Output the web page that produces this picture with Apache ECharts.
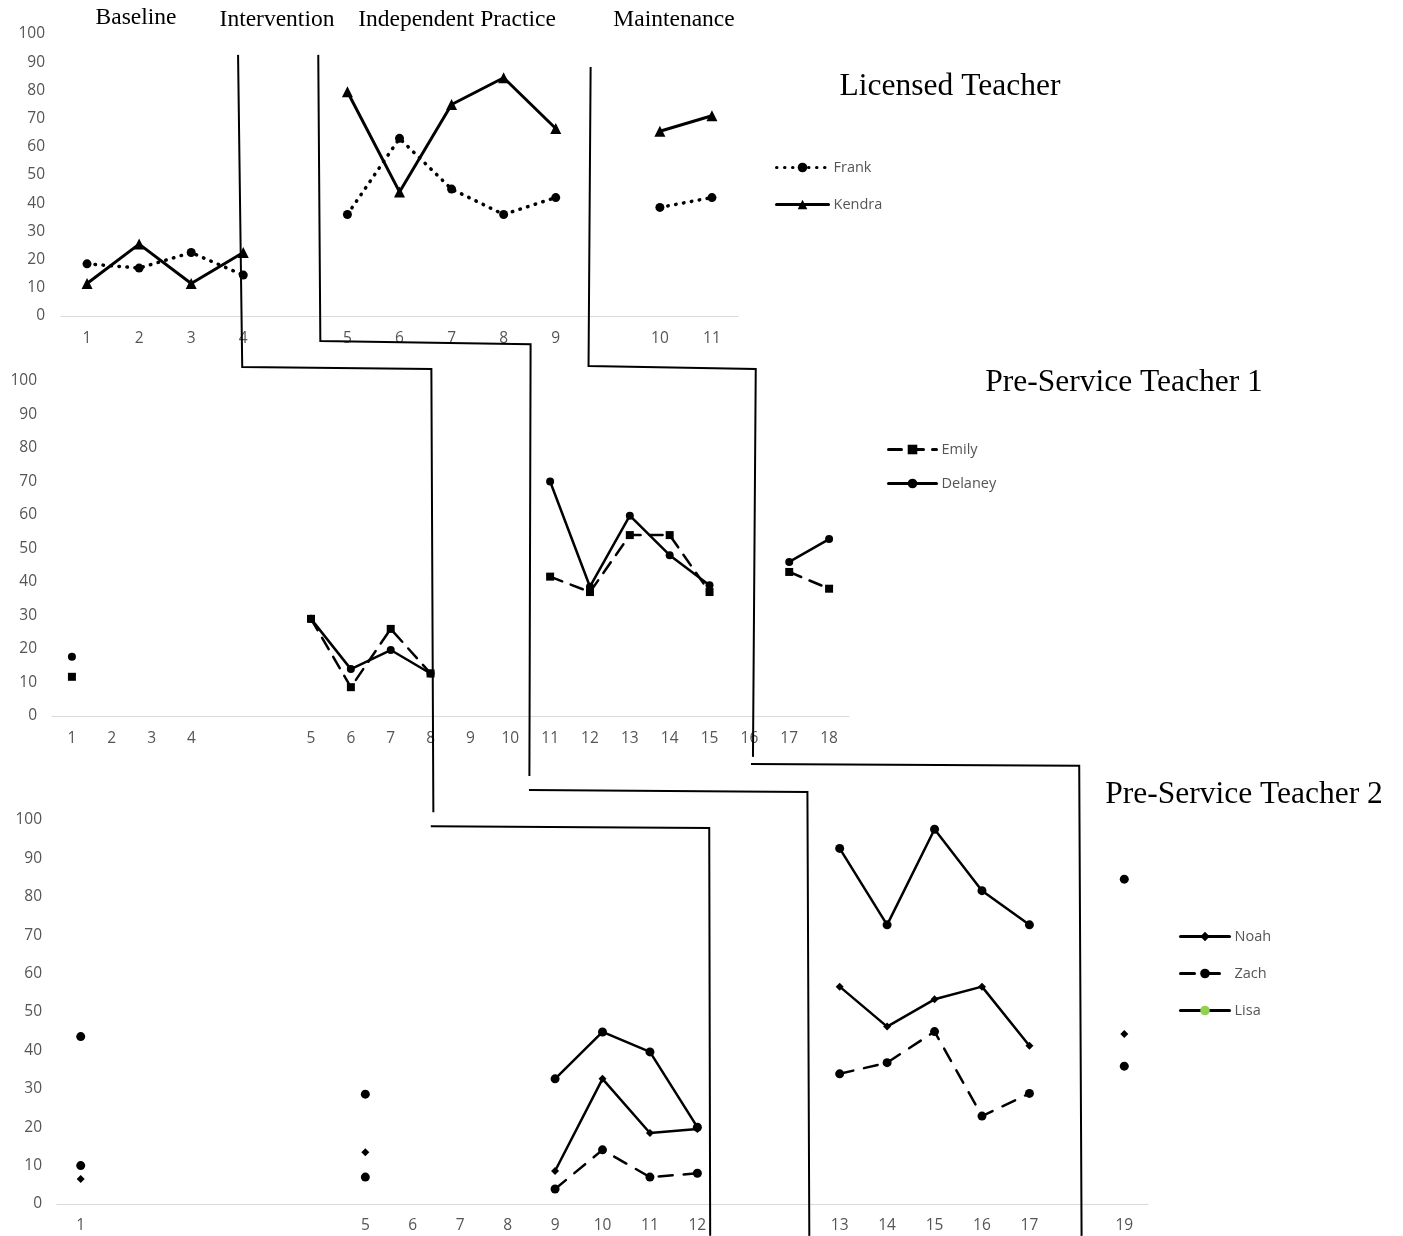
<!DOCTYPE html>
<html><head><meta charset="utf-8">
<script src="https://cdn.jsdelivr.net/npm/echarts@6/dist/echarts.min.js"></script>
<style>html,body{margin:0;padding:0;background:#fff}#c{width:1403px;height:1236px}</style>
</head><body><div id="c"></div>
<script>
// ---------- data ----------
const phaseNames = ['Baseline', 'Intervention', 'Independent Practice', 'Maintenance'];
const panelTitles = ['Licensed Teacher', 'Pre-Service Teacher 1', 'Pre-Service Teacher 2'];

// Panel 1: Licensed Teacher (sessions)
const labels1 = ['1','2','3','4','','5','6','7','8','9','','10','11'];
const frank  = [18.5, 17, 22.5, 14.5, null, 36, 63, 45, 36, 42, null, 38.5, 42];
const kendra = [11.5, 25.5, 11.5, 22.5, null, 79.5, 44, 75, 84.5, 66.5, null, 65.5, 71];

// Panel 2: Pre-Service Teacher 1
const labels2 = ['1','2','3','4','','','5','6','7','8','9','10','11','12','13','14','15','16','17','18'];
const emily   = [11.7, null, null, null, null, null, 29, 8.6, 26, 12.7, null, null, 41.6, 37, 54, 54, 37, null, 43, 38];
const delaney = [17.7, null, null, null, null, null, 29, 14, 19.7, 12.7, null, null, 70, 38.6, 59.8, 48, 39, null, 46, 52.8];

// Panel 3: Pre-Service Teacher 2
const labels3 = ['1','','','','','','5','6','7','8','9','10','11','12','','','13','14','15','16','17','','19'];
const noah = [6.5, null, null, null, null, null, 13.5, null, null, null, 8.6, 32.6, 18.5, 19.5, null, null, 56.6, 46.2, 53.3, 56.6, 41.2, null, 44.3];
const zach = [10, null, null, null, null, null, 7, null, null, null, 3.9, 14.1, 7, 8, null, null, 33.9, 36.8, 44.9, 22.9, 28.8, null, 35.9];
const lisa = [43.6, null, null, null, null, null, 28.6, null, null, null, 32.6, 44.8, 39.6, 20, null, null, 92.6, 72.7, 97.6, 81.6, 72.7, null, 84.6];

// Phase-change lines: segments of [gridIndex, categoryPosition, value]
const phaseLines = [
  [[0, 2.90, 92.6], [0, 2.98, -18.1], [1, 9.02, 103.6], [1, 9.07, -28.7]],
  [[2, 7.38, 98.4], [2, 13.25, 97.9], [2, 13.27, -8.3]],
  [[0, 4.44, 92.6], [0, 4.48, -8.9], [1, 11.51, 111.0], [1, 11.48, -17.9]],
  [[2, 9.45, 107.8], [2, 15.32, 107.3], [2, 15.36, -8.3]],
  [[0, 9.67, 88.3], [0, 9.63, -17.7], [1, 17.16, 103.6], [1, 17.09, -12.2]],
  [[2, 14.13, 114.6], [2, 21.05, 114.1], [2, 21.10, -8.3]]
];

// ---------- chart ----------
const FONT = 'Open Sans';
const SERIF = 'Liberation Serif';
const GREY = '#555555';
const chart = echarts.init(document.getElementById('c'), null, {renderer: 'canvas'});

function xAx(g, labels, margin) {
  return {
    type: 'category', gridIndex: g, boundaryGap: true,
    data: labels.map((_, i) => 'c' + i),
    axisLine: {show: true, lineStyle: {color: '#d9d9d9', width: 1}},
    axisTick: {show: false}, splitLine: {show: false},
    axisLabel: {interval: 0, margin: margin, color: GREY, fontFamily: FONT, fontSize: 15.5,
      formatter: (v, i) => labels[i]}
  };
}
function yAx(g, margin) {
  return {
    type: 'value', gridIndex: g, min: 0, max: 100, interval: 10,
    axisLine: {show: false}, axisTick: {show: false}, splitLine: {show: false},
    axisLabel: {margin: margin, color: GREY, fontFamily: FONT, fontSize: 15.5}
  };
}
function ser(name, g, data, symbol, size, width, type) {
  return {
    name: name, type: 'line', xAxisIndex: g, yAxisIndex: g, data: data,
    symbol: symbol, symbolSize: size, showSymbol: true, showAllSymbol: true,
    connectNulls: false, silent: true,
    lineStyle: {color: '#000', width: width, type: type, cap: 'round'},
    itemStyle: {color: '#000'},
    emphasis: {disabled: true}
  };
}
const legendText = {color: GREY, fontFamily: FONT, fontSize: 14.5};
const legendLine = {width: 3};

chart.setOption({
  animation: false,
  backgroundColor: '#fff',
  grid: [
    {left: 61, top: 34, width: 677, height: 282},
    {left: 52, top: 381, width: 797, height: 335},
    {left: 57, top: 820, width: 1091, height: 384}
  ],
  xAxis: [xAx(0, labels1, 15), xAx(1, labels2, 15), xAx(2, labels3, 14)],
  yAxis: [yAx(0, 16), yAx(1, 15), yAx(2, 15)],
  legend: [
    {data: ['Frank', 'Kendra'], orient: 'vertical', left: 775, top: 160, padding: 0, itemWidth: 52, itemHeight: 12,
      itemGap: 22, textStyle: legendText, lineStyle: legendLine, selectedMode: false},
    {data: ['Emily', 'Delaney'], orient: 'vertical', left: 887, top: 442, padding: 0, itemWidth: 48, itemHeight: 12,
      itemGap: 19, textStyle: legendText, lineStyle: legendLine, selectedMode: false},
    {data: ['Noah', 'Zach', {name: 'Lisa', itemStyle: {color: '#92D050'}}], orient: 'vertical', padding: 0,
      left: 1179, top: 929, itemWidth: 49, itemHeight: 12, itemGap: 22, textStyle: legendText, lineStyle: legendLine,
      selectedMode: false}
  ],
  series: [
    ser('Frank', 0, frank, 'circle', 9, 3.5, [0.5, 7.5]),
    ser('Kendra', 0, kendra, 'triangle', 11, 3, 'solid'),
    ser('Emily', 1, emily, 'rect', 8, 2.5, [13, 9]),
    ser('Delaney', 1, delaney, 'circle', 8, 2.5, 'solid'),
    ser('Noah', 2, noah, 'diamond', 8, 2.5, 'solid'),
    ser('Zach', 2, zach, 'circle', 9, 2.5, [14, 11]),
    ser('Lisa', 2, lisa, 'circle', 9, 2.5, 'solid')
  ]
});

function toPx(g, idx, val) {
  const a = chart.convertToPixel({gridIndex: g}, ['c0', 0]);
  const b = chart.convertToPixel({gridIndex: g}, ['c1', 100]);
  return [a[0] + idx * (b[0] - a[0]), a[1] + (val / 100) * (b[1] - a[1])];
}

const graphics = [];
const phasePos = [[136, 18], [277, 20], [457, 20], [674, 20]];
phaseNames.forEach((t, i) => graphics.push({
  type: 'text', x: phasePos[i][0], y: phasePos[i][1], z: 10,
  style: {text: t, font: '23.5px "' + SERIF + '"', fill: '#000', textAlign: 'center', textVerticalAlign: 'middle'}
}));
const titlePos = [[950, 87], [1124, 383], [1244, 795]];
panelTitles.forEach((t, i) => graphics.push({
  type: 'text', x: titlePos[i][0], y: titlePos[i][1], z: 10,
  style: {text: t, font: '31.5px "' + SERIF + '"', fill: '#000', textAlign: 'center', textVerticalAlign: 'middle'}
}));
phaseLines.forEach(seg => graphics.push({
  type: 'polyline', z: 20, silent: true,
  shape: {points: seg.map(p => toPx(p[0], p[1], p[2]))},
  style: {stroke: '#000', lineWidth: 2, fill: null}
}));
chart.setOption({graphic: graphics});
</script>
</body></html>
